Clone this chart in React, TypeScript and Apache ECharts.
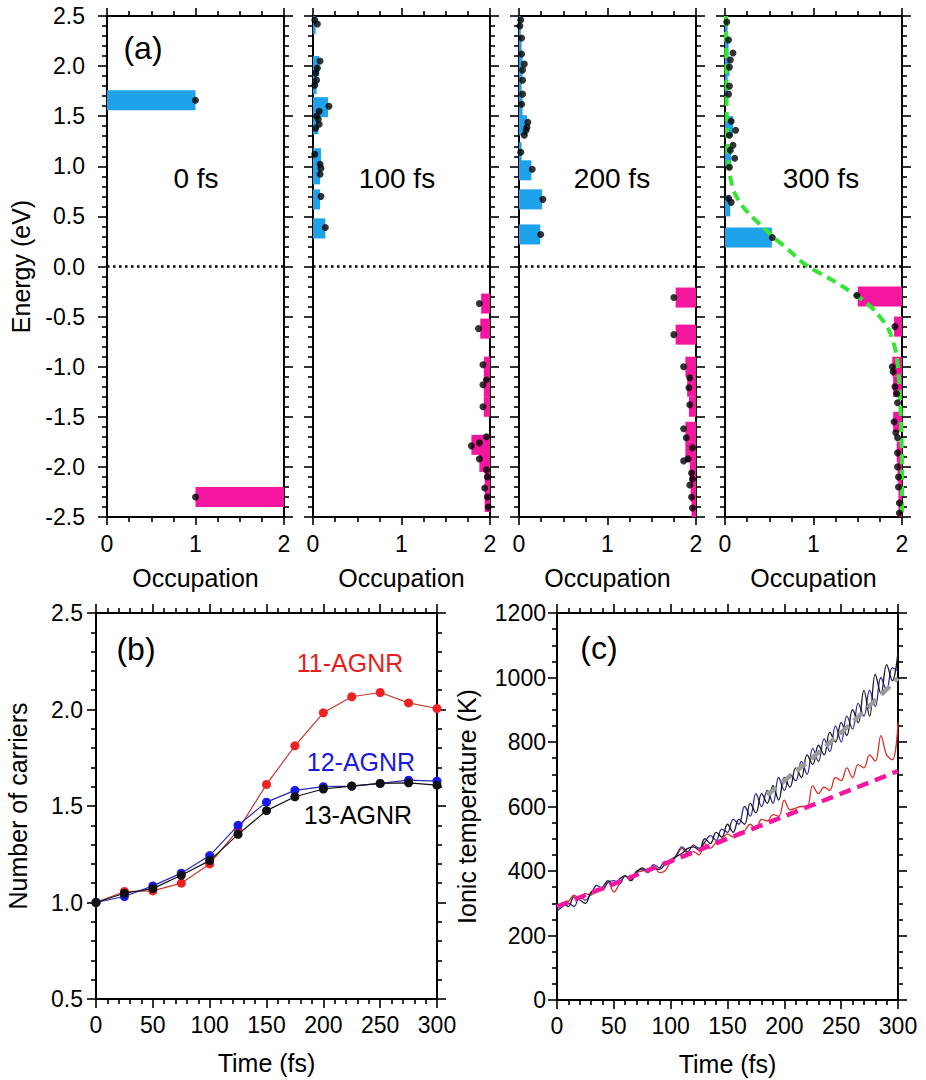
import React, { useEffect, useRef } from "react";
import * as echarts from "echarts";

const FONT = "'Liberation Sans', Arial, Helvetica, sans-serif";

// ---------- Panel (a): occupation snapshots ----------
const snapshotLabels = ["0 fs", "100 fs", "200 fs", "300 fs"];
const occupationRange = [0, 2];
const energyRange = [-2.5, 2.5];

// [energy (eV), occupation]
const electronBars0 = [[1.66, 1.0]];
const holeBars0 = [[-2.3, 1.0]];
const states0 = [[1.66, 1.0], [-2.3, 1.0]];

const electronBars100 = [
  [2.42, 0.03], [2.0, 0.07], [1.82, 0.04], [1.59, 0.17], [1.42, 0.06],
  [1.08, 0.09], [0.92, 0.08], [0.67, 0.08], [0.38, 0.14],
];
const holeBars100 = [
  [-0.37, 1.9], [-0.62, 1.89], [-1.0, 1.93], [-1.2, 1.93], [-1.4, 1.93],
  [-1.78, 1.79], [-1.95, 1.88], [-2.15, 1.94], [-2.35, 1.94],
];
const states100 = [
  [2.46, 0.02], [2.42, 0.05], [2.05, 0.08], [1.98, 0.05], [1.93, 0.03], [1.86, 0.04],
  [1.81, 0.02], [1.6, 0.18], [1.55, 0.07], [1.5, 0.04], [1.47, 0.06], [1.42, 0.07],
  [1.38, 0.03], [1.12, 0.02], [1.02, 0.08], [0.98, 0.09], [0.92, 0.08], [0.7, 0.09],
  [0.39, 0.14],
  [-0.37, 1.88], [-0.62, 1.87], [-0.98, 1.92], [-1.13, 1.96], [-1.18, 1.92], [-1.4, 1.92],
  [-1.7, 1.96], [-1.76, 1.88], [-1.79, 1.79], [-1.92, 1.88], [-2.03, 1.96], [-2.1, 1.97],
  [-2.21, 1.94], [-2.3, 1.97], [-2.4, 1.98],
];

const electronBars200 = [
  [2.4, 0.02], [2.2, 0.03], [2.0, 0.04], [1.8, 0.03], [1.6, 0.04], [1.41, 0.09],
  [1.14, 0.03], [0.96, 0.14], [0.67, 0.26], [0.32, 0.24],
];
const holeBars200 = [
  [-0.31, 1.77], [-0.68, 1.77], [-1.0, 1.88], [-1.2, 1.9], [-1.4, 1.92], [-1.65, 1.88],
  [-1.85, 1.88], [-2.05, 1.93], [-2.25, 1.94], [-2.42, 1.95],
];
const states200 = [
  [2.46, 0.02], [2.4, 0.01], [2.28, 0.03], [2.12, 0.03], [2.02, 0.06], [1.96, 0.04],
  [1.86, 0.04], [1.72, 0.04], [1.62, 0.03], [1.44, 0.1], [1.39, 0.09], [1.36, 0.08],
  [1.31, 0.06], [1.14, 0.02], [0.97, 0.15], [0.67, 0.27], [0.32, 0.245],
  [-0.31, 1.75], [-0.68, 1.75], [-1.0, 1.86], [-1.11, 1.93], [-1.21, 1.92], [-1.38, 1.93],
  [-1.62, 1.86], [-1.71, 1.89], [-1.81, 1.96], [-1.92, 1.91], [-1.94, 1.86], [-2.06, 1.95],
  [-2.12, 1.96], [-2.18, 1.93], [-2.3, 1.95], [-2.41, 1.96],
];

const electronBars300 = [
  [2.4, 0.03], [2.2, 0.04], [2.0, 0.05], [1.8, 0.03], [1.4, 0.09], [1.1, 0.07],
  [0.6, 0.06], [0.29, 0.53],
];
const holeBars300 = [
  [-0.3, 1.5], [-0.6, 1.91], [-1.0, 1.89], [-1.2, 1.9], [-1.55, 1.9], [-1.85, 1.94],
  [-2.05, 1.95], [-2.25, 1.96], [-2.42, 1.96],
];
const states300 = [
  [2.44, 0.02], [2.26, 0.04], [2.13, 0.09], [2.06, 0.06], [1.99, 0.05], [1.8, 0.05],
  [1.72, 0.04], [1.45, 0.07], [1.36, 0.12], [1.31, 0.05], [1.21, 0.09], [1.16, 0.06],
  [1.08, 0.11], [0.99, 0.05], [0.68, 0.04], [0.64, 0.07], [0.29, 0.535],
  [-0.29, 1.49], [-0.6, 1.92], [-1.0, 1.89], [-1.05, 1.9], [-1.2, 1.92], [-1.27, 1.94],
  [-1.36, 1.95], [-1.55, 1.91], [-1.66, 1.93], [-1.71, 1.95], [-1.86, 1.95], [-2.0, 1.95],
  [-2.1, 1.96], [-2.2, 1.96], [-2.36, 1.97], [-2.46, 1.97],
];
// Fermi-Dirac fit: [energy, occupation]
const fermiFit300 = [
  [2.5, 0.01], [2.0, 0.015], [1.5, 0.02], [1.0, 0.04], [0.85, 0.07], [0.73, 0.11],
  [0.6, 0.2], [0.5, 0.3], [0.4, 0.42], [0.3, 0.54], [0.165, 0.72], [0.06, 0.85],
  [0.0, 0.94], [-0.115, 1.17], [-0.2, 1.33], [-0.33, 1.55], [-0.45, 1.7], [-0.63, 1.85],
  [-0.9, 1.94], [-1.36, 1.98], [-2.0, 2.0], [-2.5, 2.0],
];

const snapshots = [
  { electrons: electronBars0, holes: holeBars0, states: states0 },
  { electrons: electronBars100, holes: holeBars100, states: states100 },
  { electrons: electronBars200, holes: holeBars200, states: states200 },
  { electrons: electronBars300, holes: holeBars300, states: states300 },
];

// ---------- Panel (b): number of carriers ----------
const carrierTimes = [0, 25, 50, 75, 100, 125, 150, 175, 200, 225, 250, 275, 300];
const carriers11 = [1.0, 1.057, 1.06, 1.1, 1.2, 1.376, 1.612, 1.812, 1.983, 2.066, 2.088, 2.034, 2.005];
const carriers12 = [1.0, 1.031, 1.086, 1.152, 1.243, 1.4, 1.52, 1.581, 1.6, 1.603, 1.617, 1.634, 1.629];
const carriers13 = [1.0, 1.048, 1.072, 1.141, 1.217, 1.353, 1.476, 1.548, 1.588, 1.603, 1.617, 1.62, 1.608];
const ribbonNames = ["11-AGNR", "12-AGNR", "13-AGNR"];

// ---------- Panel (c): ionic temperature ----------
const tempTimes = [
  0, 5, 10, 15, 20, 25, 30, 35, 40, 45, 50, 55, 60, 65, 70, 75, 80, 85, 90, 95, 100,
  105, 110, 115, 120, 125, 130, 135, 140, 145, 150, 155, 160, 165, 170, 175, 180, 185,
  190, 195, 200, 205, 210, 215, 220, 225, 230, 235, 240, 245, 250, 255, 260, 265, 270,
  275, 280, 285, 290, 295, 300,
];
const temp11 = [
  290, 300, 305, 325, 315, 330, 325, 345, 340, 365, 335, 360, 385, 370, 395, 400, 405,
  415, 395, 400, 430, 445, 470, 455, 460, 450, 485, 470, 490, 500, 515, 505, 520, 525,
  545, 530, 560, 555, 575, 570, 620, 590, 595, 600, 600, 665, 640, 660, 650, 690, 680,
  720, 690, 730, 720, 760, 740, 820, 760, 745, 860,
];
const temp12 = [
  275, 290, 300, 290, 320, 310, 330, 355, 345, 365, 370, 360, 385, 375, 400, 405, 395,
  420, 410, 430, 425, 450, 475, 460, 480, 470, 490, 510, 495, 530, 520, 560, 545, 600,
  570, 640, 600, 650, 610, 690, 650, 700, 680, 740, 700, 780, 740, 810, 770, 850, 800,
  880, 840, 920, 880, 960, 910, 1000, 960, 1030, 1020,
];
const temp13 = [
  280, 300, 290, 320, 310, 300, 335, 340, 350, 370, 355, 375, 385, 370, 395, 410, 400,
  410, 405, 420, 435, 445, 455, 470, 475, 465, 500, 485, 520, 505, 545, 520, 560, 545,
  610, 580, 640, 610, 665, 620, 690, 660, 720, 690, 760, 730, 790, 760, 830, 800, 860,
  820, 900, 860, 960, 880, 1010, 950, 1040, 990, 1080,
];
const linearFit11 = [[0, 290], [300, 710]];
const quadFit1213 = [[185, 635], [200, 680], [225, 752], [250, 830], [275, 912], [300, 998]];

// ---------- layout ----------
const A_LEFTS = [107, 313, 519, 725];
const A_TOP = 16;
const A_W = 177;
const A_H = 501;
const SNAP_LABEL_POS = [[196, 178], [397, 178], [612, 178], [821, 178]];

const BLUE = "#1ea2ea";
const PINK = "#f5169f";
const GREEN = "#33e633";
const BAR_HALF = 0.1;
const AXES_PER_GRID = 2;

// frame axes on all four sides, with major and minor ticks
function frameAxes(grid: number, o: any) {
  const sides = o.isX ? ["bottom", "top"] : ["left", "right"];
  const tickLine = { color: "#000", width: 1.6 };
  return sides.map((pos, k) => ({
    type: "value",
    gridIndex: grid,
    position: pos,
    min: o.min,
    max: o.max,
    interval: o.interval,
    splitLine: { show: false },
    minorSplitLine: { show: false },
    axisLine: { show: true, onZero: false, lineStyle: { color: "#000", width: 2 } },
    axisTick: { show: true, length: o.major, lineStyle: tickLine },
    minorTick: { show: true, splitNumber: o.minor, length: o.minorLen, lineStyle: tickLine },
    axisLabel: k === 0
      ? {
          show: o.showLabels, margin: o.labelMargin, fontSize: 23, color: "#000",
          fontFamily: FONT, showMinLabel: true, showMaxLabel: true, formatter: o.formatter,
        }
      : { show: false },
    name: k === 0 ? o.name : "",
    nameLocation: "middle",
    nameGap: o.nameGap,
    nameTextStyle: { fontSize: 25, color: "#000", fontFamily: FONT },
  }));
}

function barRender(kind: "e" | "h", color: string) {
  return (params: any, api: any) => {
    const e = api.value(0);
    const v = api.value(1);
    const x0 = kind === "e" ? 0 : v;
    const x1 = kind === "e" ? v : 2;
    const p0 = api.coord([x0, e + BAR_HALF]);
    const p1 = api.coord([x1, e - BAR_HALF]);
    return {
      type: "rect",
      shape: { x: p0[0], y: p0[1], width: p1[0] - p0[0], height: p1[1] - p0[1] },
      style: { fill: color },
    };
  };
}

function buildOption() {
  const grids: any[] = [];
  const xAxis: any[] = [];
  const yAxis: any[] = [];
  const series: any[] = [];
  const graphic: any[] = [];

  snapshots.forEach((snap, i) => {
    grids.push({ left: A_LEFTS[i], top: A_TOP, width: A_W, height: A_H });
    xAxis.push(
      ...frameAxes(i, {
        isX: true, min: occupationRange[0], max: occupationRange[1], interval: 1,
        minor: 4, major: 8, minorLen: 5,
        showLabels: true, labelMargin: 15, name: "Occupation", nameGap: 48,
        formatter: (v: number) => String(v),
      })
    );
    yAxis.push(
      ...frameAxes(i, {
        isX: false, min: energyRange[0], max: energyRange[1], interval: 0.5,
        minor: 5, major: 9, minorLen: 5,
        showLabels: i === 0, labelMargin: 22,
        name: i === 0 ? "Energy (eV)" : "", nameGap: 74,
        formatter: (v: number) => v.toFixed(1),
      })
    );
    const ax = i * AXES_PER_GRID;
    series.push({
      type: "custom", xAxisIndex: ax, yAxisIndex: ax, z: 2,
      data: snap.electrons, renderItem: barRender("e", BLUE), clip: true,
      encode: { x: 1, y: 0 },
    });
    series.push({
      type: "custom", xAxisIndex: ax, yAxisIndex: ax, z: 2,
      data: snap.holes, renderItem: barRender("h", PINK), clip: true,
      encode: { x: 1, y: 0 },
    });
    series.push({
      type: "line", xAxisIndex: ax, yAxisIndex: ax, z: 3, symbol: "none",
      data: [[0, 0], [2, 0]],
      lineStyle: { color: "#000", width: 2.5, type: [2.5, 3.5] },
    });
    if (i === 3) {
      series.push({
        type: "line", xAxisIndex: ax, yAxisIndex: ax, z: 4, symbol: "none", smooth: 0.3,
        data: fermiFit300.map(([e, f]) => [f, e]),
        lineStyle: { color: GREEN, width: 4, type: [10, 6] },
      });
    }
    series.push({
      type: "scatter", xAxisIndex: ax, yAxisIndex: ax, z: 5, symbolSize: 7,
      data: snap.states.map(([e, f]) => [f, e]),
      itemStyle: { color: "#000" },
    });
    graphic.push({
      type: "text", x: SNAP_LABEL_POS[i][0], y: SNAP_LABEL_POS[i][1],
      style: { text: snapshotLabels[i], fontSize: 28, fontFamily: FONT, fill: "#000", align: "center", verticalAlign: "middle" },
    });
  });

  const timeRange = [0, 300];

  // (b)
  const carrierRange = [0.5, 2.5];
  grids.push({ left: 96, top: 613, width: 341, height: 386 });
  xAxis.push(
    ...frameAxes(4, {
      isX: true, min: timeRange[0], max: timeRange[1], interval: 50,
      minor: 5, major: 9, minorLen: 5,
      showLabels: true, labelMargin: 14, name: "Time (fs)", nameGap: 51,
      formatter: (v: number) => String(v),
    })
  );
  yAxis.push(
    ...frameAxes(4, {
      isX: false, min: carrierRange[0], max: carrierRange[1], interval: 0.5,
      minor: 5, major: 9, minorLen: 5,
      showLabels: true, labelMargin: 13, name: "Number of carriers", nameGap: 66,
      formatter: (v: number) => v.toFixed(1),
    })
  );
  const bAx = 4 * AXES_PER_GRID;
  const carrierSets = [
    { d: carriers11, dot: "#ee2222", line: "#c43a30" },
    { d: carriers12, dot: "#1a1ae6", line: "#2a2ab8" },
    { d: carriers13, dot: "#111111", line: "#111111" },
  ];
  carrierSets.forEach((c, k) => {
    series.push({
      type: "line", xAxisIndex: bAx, yAxisIndex: bAx, z: 3 + k, symbol: "circle", symbolSize: 9,
      data: carrierTimes.map((t, j) => [t, c.d[j]]),
      itemStyle: { color: c.dot },
      lineStyle: { color: c.line, width: 1.2 },
    });
  });

  // (c)
  const tempRange = [0, 1200];
  grids.push({ left: 557, top: 613, width: 341, height: 387 });
  xAxis.push(
    ...frameAxes(5, {
      isX: true, min: timeRange[0], max: timeRange[1], interval: 50,
      minor: 5, major: 9, minorLen: 5,
      showLabels: true, labelMargin: 14, name: "Time (fs)", nameGap: 51,
      formatter: (v: number) => String(v),
    })
  );
  yAxis.push(
    ...frameAxes(5, {
      isX: false, min: tempRange[0], max: tempRange[1], interval: 200,
      minor: 4, major: 9, minorLen: 5,
      showLabels: true, labelMargin: 11, name: "Ionic temperature (K)", nameGap: 78,
      formatter: (v: number) => String(v),
    })
  );
  const cAx = 5 * AXES_PER_GRID;
  const tempSets = [
    { d: temp11, c: "#d8322a" },
    { d: temp12, c: "#2b2ba6" },
    { d: temp13, c: "#1a1a1a" },
  ];
  tempSets.forEach((s, k) => {
    series.push({
      type: "line", xAxisIndex: cAx, yAxisIndex: cAx, z: 3 + k, symbol: "none", smooth: 0.4,
      data: tempTimes.map((t, j) => [t, s.d[j]]),
      lineStyle: { color: s.c, width: 1.3 },
    });
  });
  series.push({
    type: "line", xAxisIndex: cAx, yAxisIndex: cAx, z: 7, symbol: "none", smooth: true,
    data: quadFit1213, lineStyle: { color: "#9b9b9b", width: 4.5, type: [12, 7] },
  });
  series.push({
    type: "line", xAxisIndex: cAx, yAxisIndex: cAx, z: 8, symbol: "none",
    data: linearFit11, lineStyle: { color: PINK, width: 4.5, type: [12, 7] },
  });

  const panelLabels = [
    { t: "(a)", x: 143, y: 48 },
    { t: "(b)", x: 136, y: 649 },
    { t: "(c)", x: 599, y: 648 },
  ];
  panelLabels.forEach((p) =>
    graphic.push({
      type: "text", x: p.x, y: p.y,
      style: { text: p.t, fontSize: 32, fontFamily: FONT, fill: "#000", align: "center", verticalAlign: "middle" },
    })
  );
  const ribbonLabelStyle = [
    { x: 350, y: 663, c: "#e61e1e" },
    { x: 361, y: 762, c: "#1a1ad8" },
    { x: 358, y: 815, c: "#000" },
  ];
  ribbonNames.forEach((n, k) =>
    graphic.push({
      type: "text", x: ribbonLabelStyle[k].x, y: ribbonLabelStyle[k].y,
      style: { text: n, fontSize: 25, fontFamily: FONT, fill: ribbonLabelStyle[k].c, align: "center", verticalAlign: "middle" },
    })
  );

  return {
    animation: false,
    backgroundColor: "#fff",
    textStyle: { fontFamily: FONT },
    grid: grids,
    xAxis,
    yAxis,
    series,
    graphic,
  };
}

export default function App() {
  const ref = useRef<HTMLDivElement>(null);
  useEffect(() => {
    if (!ref.current) return;
    const chart = echarts.init(ref.current, undefined, { renderer: "svg" });
    chart.setOption(buildOption() as any);
    return () => chart.dispose();
  }, []);
  return (
    <div
      ref={ref}
      style={{ position: "absolute", left: 0, top: 0, width: 926, height: 1080, background: "#fff" }}
    />
  );
}
